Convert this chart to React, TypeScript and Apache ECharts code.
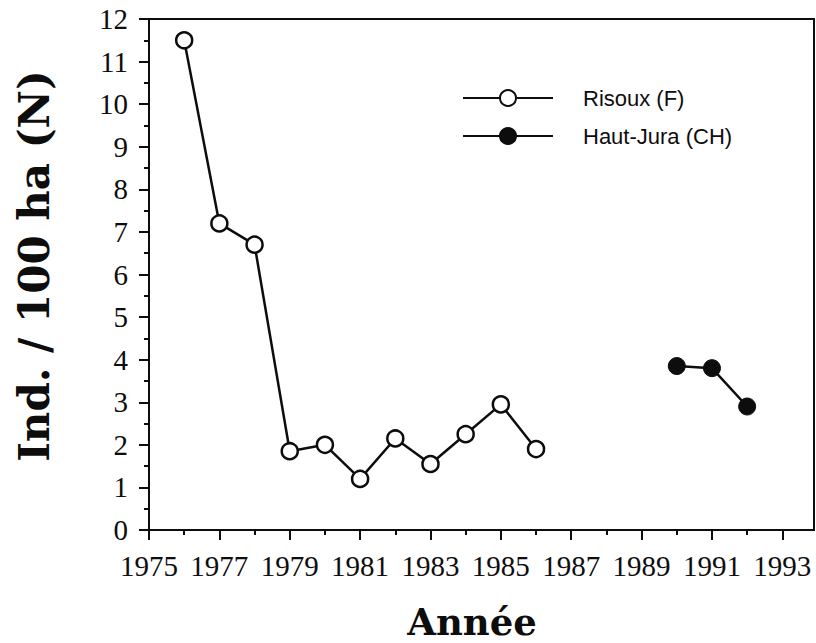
import React, { useEffect, useRef } from "react";
import * as echarts from "echarts";

const risouxYears = [1976, 1977, 1978, 1979, 1980, 1981, 1982, 1983, 1984, 1985, 1986];
const risouxValues = [11.5, 7.2, 6.7, 1.85, 2.0, 1.2, 2.15, 1.55, 2.25, 2.95, 1.9];
const hautJuraYears = [1990, 1991, 1992];
const hautJuraValues = [3.85, 3.8, 2.9];
const xLabelYears = [1975, 1977, 1979, 1981, 1983, 1985, 1987, 1989, 1991, 1993];
const xMinorYears = [1976, 1978, 1980, 1982, 1984, 1986, 1988, 1990, 1992];
const seriesNames = ["Risoux (F)", "Haut-Jura (CH)"];
const yTitle = "Ind. / 100 ha (N)";
const xTitle = "Année";

const SERIF = '"Liberation Serif", "Times New Roman", serif';
const BOLD_SERIF = '"DejaVu Serif", serif';
const SANS = '"Liberation Sans", Arial, sans-serif';
const INK = "#0d0d0d";

export default function App() {
  const ref = useRef<HTMLDivElement>(null);
  useEffect(() => {
    if (!ref.current) return;
    const chart = echarts.init(ref.current, null, { renderer: "svg" });
    const option = {
      animation: false,
      backgroundColor: "#fff",
      grid: {
        left: 149,
        top: 19,
        right: 2,
        bottom: 113,
        show: true,
        borderColor: INK,
        borderWidth: 2,
        containLabel: false,
      },
      legend: {
        orient: "vertical",
        left: 457,
        top: 82,
        itemWidth: 90,
        itemHeight: 20,
        itemGap: 16,
        data: seriesNames,
        textStyle: {
          fontFamily: SANS,
          fontSize: 22,
          color: INK,
          padding: [0, 0, 0, 25],
        },
      },
      xAxis: [
        {
          type: "value",
          min: 1975,
          max: 1993.9,
          position: "bottom",
          axisLine: { show: true, lineStyle: { color: INK, width: 2 } },
          axisTick: {
            show: true,
            customValues: xLabelYears,
            length: 10,
            lineStyle: { color: INK, width: 2 },
          },
          axisLabel: {
            customValues: xLabelYears,
            fontFamily: SERIF,
            fontSize: 29,
            color: INK,
            margin: 21,
            formatter: (v: number) => String(v),
          },
          splitLine: { show: false },
        },
        {
          type: "value",
          min: 1975,
          max: 1993.9,
          position: "bottom",
          axisLine: { show: false },
          axisTick: {
            show: true,
            customValues: xMinorYears,
            length: 5,
            lineStyle: { color: INK, width: 2 },
          },
          axisLabel: { show: false },
          splitLine: { show: false },
        },
      ],
      yAxis: {
        type: "value",
        min: 0,
        max: 12,
        interval: 1,
        axisLine: { show: true, lineStyle: { color: INK, width: 2 } },
        axisTick: { show: true, length: 10, lineStyle: { color: INK, width: 2 } },
        minorTick: { show: true, splitNumber: 2, length: 5, lineStyle: { color: INK, width: 2 } },
        axisLabel: { fontFamily: SERIF, fontSize: 29, color: INK, margin: 21 },
        splitLine: { show: false },
        minorSplitLine: { show: false },
      },
      graphic: [
        {
          type: "text",
          x: 34,
          y: 266,
          rotation: Math.PI / 2,
          style: {
            text: yTitle,
            fontFamily: BOLD_SERIF,
            fontWeight: "bold",
            fontSize: 42,
            fill: INK,
            align: "center",
            verticalAlign: "middle",
          },
        },
        {
          type: "text",
          x: 472,
          y: 622,
          style: {
            text: xTitle,
            fontFamily: BOLD_SERIF,
            fontWeight: "bold",
            fontSize: 37,
            fill: INK,
            align: "center",
            verticalAlign: "middle",
          },
        },
      ],
      series: [
        {
          name: seriesNames[0],
          type: "line",
          xAxisIndex: 0,
          data: risouxYears.map((y, i) => [y, risouxValues[i]]),
          symbol: "circle",
          symbolSize: 16,
          showAllSymbol: true,
          lineStyle: { color: INK, width: 2.5 },
          itemStyle: { color: "#fff", borderColor: INK, borderWidth: 2.5 },
          z: 3,
        },
        {
          name: seriesNames[1],
          type: "line",
          xAxisIndex: 0,
          data: hautJuraYears.map((y, i) => [y, hautJuraValues[i]]),
          symbol: "circle",
          symbolSize: 17,
          showAllSymbol: true,
          lineStyle: { color: INK, width: 2.5 },
          itemStyle: { color: INK, borderColor: INK, borderWidth: 1 },
          z: 3,
        },
      ],
    };
    chart.setOption(option as any);
    return () => chart.dispose();
  }, []);
  return (
    <div
      ref={ref}
      style={{ position: "fixed", left: 0, top: 0, width: 816, height: 643, background: "#fff" }}
    />
  );
}
